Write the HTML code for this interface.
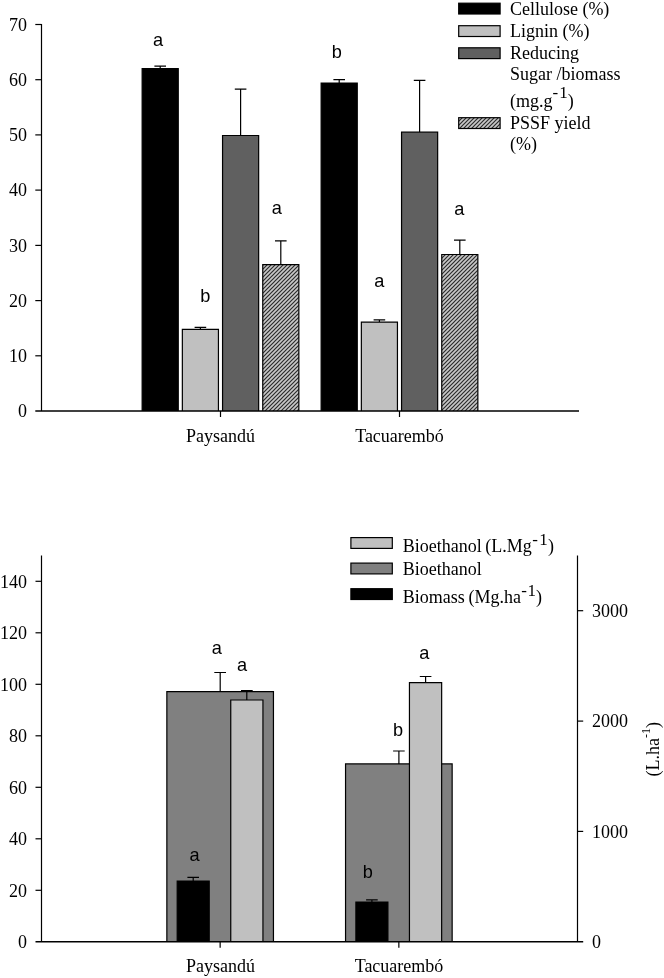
<!DOCTYPE html>
<html lang="en"><head><meta charset="utf-8"><title>Figure</title>
<style>html,body{margin:0;padding:0;background:#fff}svg{display:block}.s{font-family:"Liberation Serif","Times New Roman",serif;font-size:18px;fill:#000}.a{font-family:"Liberation Sans",Arial,sans-serif;font-size:18.2px;fill:#000}.l{stroke:#000;stroke-width:1.2;fill:none}.b{stroke:#000;stroke-width:1.2}</style></head><body>
<svg width="664" height="978" viewBox="0 0 664 978">
<defs><pattern id="h" width="4" height="4" patternUnits="userSpaceOnUse"><rect width="4" height="4" fill="#c8c8c8"/><path d="M-1 1L1 -1M-1 5L5 -1M3 5L5 3" stroke="#2b2b2b" stroke-width="1.2"/></pattern></defs>
<rect width="664" height="978" fill="#fff"/>
<path class="l" d="M41.5 23.9V411.0"/>
<text class="s" x="26.9" y="417.2" text-anchor="end">0</text>
<path class="l" d="M35.3 355.8H41.5"/>
<text class="s" x="26.9" y="362.0" text-anchor="end">10</text>
<path class="l" d="M35.3 300.6H41.5"/>
<text class="s" x="26.9" y="306.8" text-anchor="end">20</text>
<path class="l" d="M35.3 245.4H41.5"/>
<text class="s" x="26.9" y="251.6" text-anchor="end">30</text>
<path class="l" d="M35.3 190.1H41.5"/>
<text class="s" x="26.9" y="196.3" text-anchor="end">40</text>
<path class="l" d="M35.3 134.9H41.5"/>
<text class="s" x="26.9" y="141.1" text-anchor="end">50</text>
<path class="l" d="M35.3 79.7H41.5"/>
<text class="s" x="26.9" y="85.9" text-anchor="end">60</text>
<path class="l" d="M35.3 24.5H41.5"/>
<text class="s" x="26.9" y="30.7" text-anchor="end">70</text>
<path class="l" d="M220.5 411.0V417.0"/>
<text class="s" x="220.5" y="441.6" text-anchor="middle">Paysandú</text>
<path class="l" d="M399.5 411.0V417.0"/>
<text class="s" x="399.5" y="441.6" text-anchor="middle">Tacuarembó</text>
<path class="l" d="M160.2 68.7V66.2M154.4 66.2H166.0"/>
<path class="b" d="M142.15 411.0V68.7H178.25V411.0" fill="#000"/>
<path class="l" d="M200.4 329.3V327.4M194.6 327.4H206.2"/>
<path class="b" d="M182.35 411.0V329.3H218.45V411.0" fill="#c0c0c0"/>
<path class="l" d="M240.6 135.5V89.1M234.8 89.1H246.4"/>
<path class="b" d="M222.55 411.0V135.5H258.65V411.0" fill="#606060"/>
<path class="l" d="M280.8 264.7V240.9M275.0 240.9H286.6"/>
<path class="b" d="M262.75 411.0V264.7H298.85V411.0" fill="url(#h)"/>
<path class="l" d="M339.2 83.0V79.7M333.4 79.7H345.0"/>
<path class="b" d="M321.15 411.0V83.0H357.25V411.0" fill="#000"/>
<path class="l" d="M379.4 322.1V319.9M373.6 319.9H385.2"/>
<path class="b" d="M361.35 411.0V322.1H397.45V411.0" fill="#c0c0c0"/>
<path class="l" d="M419.6 132.2V80.3M413.8 80.3H425.4"/>
<path class="b" d="M401.55 411.0V132.2H437.65V411.0" fill="#606060"/>
<path class="l" d="M459.8 254.5V240.1M454.0 240.1H465.6"/>
<path class="b" d="M441.75 411.0V254.5H477.85V411.0" fill="url(#h)"/>
<path class="l" style="stroke-width:1.4" d="M35.3 411.0H579.0"/>
<text class="a" x="158.0" y="45.8" text-anchor="middle">a</text>
<text class="a" x="336.9" y="57.8" text-anchor="middle">b</text>
<text class="a" x="205.4" y="302.3" text-anchor="middle">b</text>
<text class="a" x="379.3" y="286.8" text-anchor="middle">a</text>
<text class="a" x="276.7" y="213.6" text-anchor="middle">a</text>
<text class="a" x="459.3" y="214.7" text-anchor="middle">a</text>
<rect class="b" x="458.7" y="3.2" width="41.4" height="10.8" fill="#000"/>
<rect class="b" x="458.7" y="25.7" width="41.4" height="10.8" fill="#c0c0c0"/>
<rect class="b" x="458.7" y="47.8" width="41.4" height="10.8" fill="#606060"/>
<rect class="b" x="458.7" y="117.7" width="41.4" height="10.8" fill="url(#h)"/>
<text class="s" x="509.9" y="14.5">Cellulose (%)</text>
<text class="s" x="509.9" y="36.8">Lignin (%)</text>
<text class="s" x="509.9" y="58.8">Reducing</text>
<text class="s" x="509.9" y="79.7">Sugar /biomass</text>
<text class="s" x="509.9" y="106.8">(mg.g<tspan dy="-8.5" dx="0.2" font-size="17">-</tspan><tspan dx="0.9" font-size="17">1</tspan><tspan dy="8.5" dx="0.2">)</tspan></text>
<text class="s" x="509.9" y="129.1">PSSF yield</text>
<text class="s" x="509.9" y="149.6">(%)</text>
<path class="l" d="M41.5 555.5V941.8M577.5 941.8V555.5"/>
<text class="s" x="26.9" y="948.0" text-anchor="end">0</text>
<path class="l" d="M35.5 890.3H41.5"/>
<text class="s" x="26.9" y="896.5" text-anchor="end">20</text>
<path class="l" d="M35.5 838.8H41.5"/>
<text class="s" x="26.9" y="845.0" text-anchor="end">40</text>
<path class="l" d="M35.5 787.3H41.5"/>
<text class="s" x="26.9" y="793.5" text-anchor="end">60</text>
<path class="l" d="M35.5 735.8H41.5"/>
<text class="s" x="26.9" y="742.0" text-anchor="end">80</text>
<path class="l" d="M35.5 684.3H41.5"/>
<text class="s" x="26.9" y="690.5" text-anchor="end">100</text>
<path class="l" d="M35.5 632.8H41.5"/>
<text class="s" x="26.9" y="639.0" text-anchor="end">120</text>
<path class="l" d="M35.5 581.3H41.5"/>
<text class="s" x="26.9" y="587.5" text-anchor="end">140</text>
<text class="s" x="592.0" y="948.0">0</text>
<path class="l" d="M577.5 831.4H583.2"/>
<text class="s" x="592.0" y="837.6">1000</text>
<path class="l" d="M577.5 721.1H583.2"/>
<text class="s" x="592.0" y="727.3">2000</text>
<path class="l" d="M577.5 610.7H583.2"/>
<text class="s" x="592.0" y="616.9">3000</text>
<path class="l" d="M220.15 941.8V947.8"/>
<text class="s" x="220.4" y="972.4" text-anchor="middle">Paysandú</text>
<path class="l" d="M398.85 941.8V947.8"/>
<text class="s" x="399.0" y="972.4" text-anchor="middle">Tacuarembó</text>
<path class="l" d="M220.2 691.7V672.5M214.3 672.5H226.0"/>
<path class="b" d="M166.85 941.8V691.7H273.45V941.8" fill="#808080"/>
<path class="l" d="M193.2 881.0V877.3M187.4 877.3H199.0"/>
<path class="b" d="M177.20 941.8V881.0H209.20V941.8" fill="#000"/>
<path class="b" d="M230.75 941.8V700.0H262.95V941.8" fill="#c0c0c0"/>
<path class="l" d="M246.8 700.0V690.7M241.0 690.7H252.7"/>
<path class="l" d="M398.9 763.9V751.0M393.1 751.0H404.7"/>
<path class="b" d="M345.55 941.8V763.9H452.15V941.8" fill="#808080"/>
<path class="l" d="M371.9 902.1V899.8M366.1 899.8H377.7"/>
<path class="b" d="M355.90 941.8V902.1H387.90V941.8" fill="#000"/>
<path class="b" d="M409.45 941.8V682.7H441.65V941.8" fill="#c0c0c0"/>
<path class="l" d="M425.6 682.7V676.5M419.8 676.5H431.4"/>
<path class="l" style="stroke-width:1.4" d="M35.5 941.8H583.2"/>
<text class="a" x="216.7" y="654.2" text-anchor="middle">a</text>
<text class="a" x="242.1" y="671.2" text-anchor="middle">a</text>
<text class="a" x="194.5" y="860.7" text-anchor="middle">a</text>
<text class="a" x="424.2" y="658.8" text-anchor="middle">a</text>
<text class="a" x="398.0" y="735.8" text-anchor="middle">b</text>
<text class="a" x="367.7" y="877.7" text-anchor="middle">b</text>
<rect class="b" x="350.9" y="537.6" width="41.4" height="10.8" fill="#c0c0c0"/>
<rect class="b" x="350.9" y="563.1" width="41.4" height="10.8" fill="#808080"/>
<rect class="b" x="350.9" y="588.7" width="41.4" height="10.8" fill="#000"/>
<text class="s" x="402.7" y="552.0">Bioethanol <tspan dx="-1">(L.Mg</tspan><tspan dy="-7.3" dx="0.5" font-size="17">-</tspan><tspan dx="1.5" font-size="17">1</tspan><tspan dy="7.3" dx="0.2">)</tspan></text>
<text class="s" x="402.7" y="574.6">Bioethanol</text>
<text class="s" x="402.7" y="603.2">Biomass <tspan dx="-0.7">(Mg.ha</tspan><tspan dy="-7.3" dx="0.3" font-size="17">-</tspan><tspan dx="0.4" font-size="17">1</tspan><tspan dy="7.3" dx="0">)</tspan></text>
<text class="s" transform="translate(658.6 776.6) rotate(-90)">(L.ha<tspan dy="-9" font-size="12">-1</tspan><tspan dy="9">)</tspan></text>
</svg></body></html>
